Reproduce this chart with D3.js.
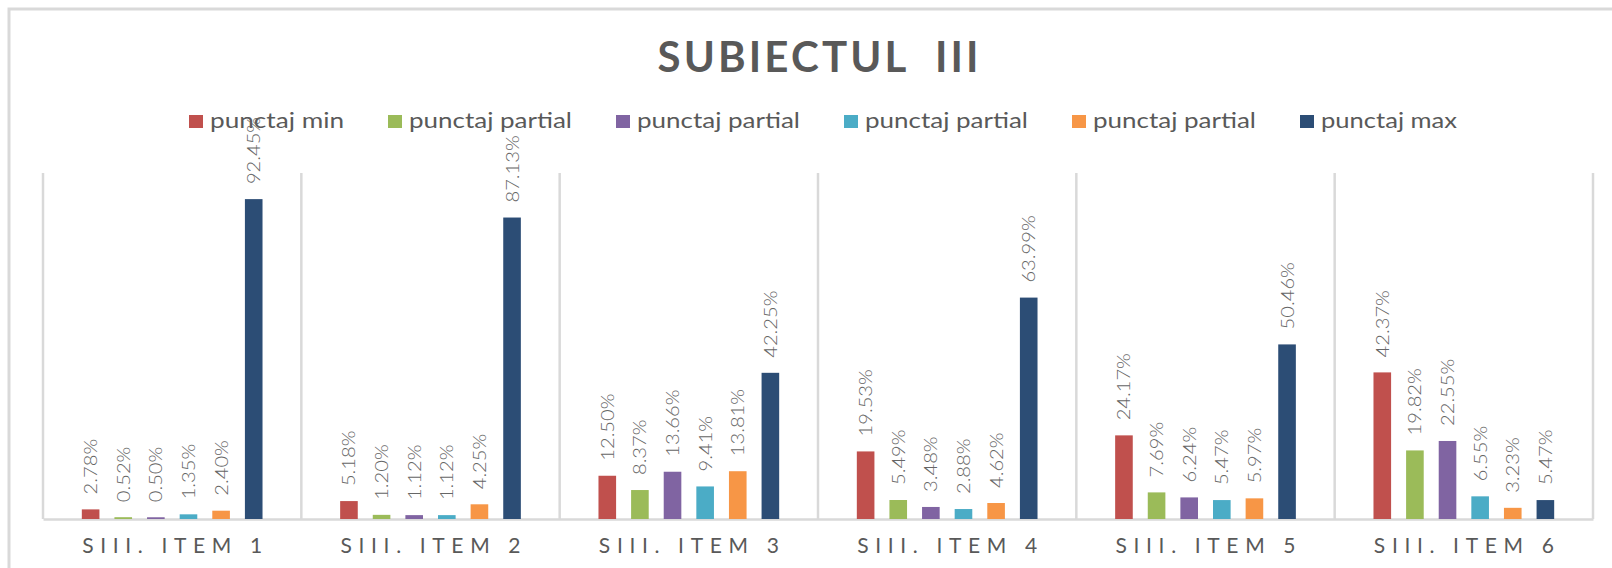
<!DOCTYPE html>
<html>
<head>
<meta charset="utf-8">
<script src="https://cdn.jsdelivr.net/npm/d3@7/dist/d3.min.js"></script>
<style>
  html, body { margin: 0; padding: 0; background: #ffffff; }
  svg { display: block; }
  text { font-family: Lato, "Open Sans", sans-serif; }
</style>
</head>
<body>
<svg id="chart" width="1612" height="568"></svg>
<script>
// Categories (items of Subiectul III)
const categories = ["SIII. ITEM 1", "SIII. ITEM 2", "SIII. ITEM 3", "SIII. ITEM 4", "SIII. ITEM 5", "SIII. ITEM 6"];

// Series names as shown in the legend
const seriesNames = ["punctaj min", "punctaj partial", "punctaj partial", "punctaj partial", "punctaj partial", "punctaj max"];

// Percent of students per score band, one array per series
const punctajMin      = [2.78, 5.18, 12.50, 19.53, 24.17, 42.37];
const punctajPartial1 = [0.52, 1.20, 8.37, 5.49, 7.69, 19.82];
const punctajPartial2 = [0.50, 1.12, 13.66, 3.48, 6.24, 22.55];
const punctajPartial3 = [1.35, 1.12, 9.41, 2.88, 5.47, 6.55];
const punctajPartial4 = [2.40, 4.25, 13.81, 4.62, 5.97, 3.23];
const punctajMax      = [92.45, 87.13, 42.25, 63.99, 50.46, 5.47];

const seriesValues = [punctajMin, punctajPartial1, punctajPartial2, punctajPartial3, punctajPartial4, punctajMax];
const seriesColors = ["#C0504D", "#9BBB59", "#8064A2", "#4BACC6", "#F79646", "#2C4D75"];

const titleText = "SUBIECTUL  III";

const svg = d3.select("#chart");
const textColor = "#595959";
const gridColor = "#D9D9D9";

// Plot area
const plot = { left: 43, right: 1593, top: 173, bottom: 519 };

// Outer chart border (extends past the right and bottom edges)
svg.append("rect")
  .attr("x", 9).attr("y", 9)
  .attr("width", 1640).attr("height", 600)
  .attr("fill", "none")
  .attr("stroke", gridColor)
  .attr("stroke-width", 3);

// Title
svg.append("text")
  .attr("x", 818).attr("y", 72)
  .attr("text-anchor", "middle")
  .attr("font-size", 42)
  .attr("font-weight", "bold")
  .attr("fill", textColor)
  .attr("textLength", 321)
  .attr("lengthAdjust", "spacing")
  .style("white-space", "pre")
  .text(titleText);

// Legend laid out left to right
const legendWidths = [134, 163, 163, 163, 163, 136];
let lx = 189;
const legend = svg.append("g");
seriesNames.forEach((name, i) => {
  legend.append("rect")
    .attr("x", lx).attr("y", 115)
    .attr("width", 14).attr("height", 13)
    .attr("fill", seriesColors[i]);
  legend.append("text")
    .attr("x", lx + 21).attr("y", 128)
    .attr("font-size", 21)
    .attr("fill", textColor)
    .attr("textLength", legendWidths[i])
    .attr("lengthAdjust", "spacingAndGlyphs")
    .text(name);
  lx += 21 + legendWidths[i] + 44;
});

// Scales
const x0 = d3.scaleBand()
  .domain(categories)
  .range([plot.left, plot.right])
  .paddingInner(0)
  .paddingOuter(0);

const x1 = d3.scaleBand()
  .domain(d3.range(seriesValues.length))
  .range([0, x0.bandwidth()])
  .paddingInner(0.46)
  .paddingOuter(1.19);

const y = d3.scaleLinear()
  .domain([0, 100])
  .range([plot.bottom, plot.top]);

// Vertical separators between categories
const edges = categories.map(c => x0(c)).concat([plot.right]);
svg.append("g")
  .selectAll("line")
  .data(edges)
  .join("line")
  .attr("x1", d => d).attr("x2", d => d)
  .attr("y1", plot.top).attr("y2", plot.bottom)
  .attr("stroke", gridColor)
  .attr("stroke-width", 2.5);

// Category axis
const xAxis = svg.append("g")
  .attr("transform", `translate(0,${plot.bottom})`)
  .call(d3.axisBottom(x0).tickSize(0).tickPadding(0));
xAxis.select(".domain")
  .attr("stroke", gridColor)
  .attr("stroke-width", 2.5);
xAxis.selectAll(".tick text")
  .attr("y", 34)
  .attr("dy", 0)
  .attr("font-family", "Lato, 'Open Sans', sans-serif")
  .attr("font-size", 21)
  .attr("fill", textColor)
  .attr("textLength", 180)
  .attr("lengthAdjust", "spacing");

// Bars
const rows = [];
categories.forEach((c, ci) => {
  seriesValues.forEach((vals, si) => {
    rows.push({ cat: c, s: si, v: vals[ci] });
  });
});

const bars = svg.append("g");
bars.selectAll("rect")
  .data(rows)
  .join("rect")
  .attr("x", d => x0(d.cat) + x1(d.s))
  .attr("y", d => y(d.v))
  .attr("width", x1.bandwidth())
  .attr("height", d => plot.bottom - y(d.v))
  .attr("fill", d => seriesColors[d.s]);

// Rotated value labels above each bar, slightly elongated along the text
const fmt = v => v.toFixed(2) + "%";
const labels = bars.selectAll("text")
  .data(rows)
  .join("text")
  .attr("transform", d => {
    const cx = x0(d.cat) + x1(d.s) + x1.bandwidth() / 2;
    return `translate(${cx},${y(d.v) - 15}) rotate(-90)`;
  })
  .attr("dy", "0.36em")
  .attr("font-size", 18)
  .attr("font-weight", 300)
  .attr("fill", "#666666")
  .text(d => fmt(d.v));
labels.each(function () {
  const w = this.getComputedTextLength();
  d3.select(this)
    .attr("textLength", w * 1.12)
    .attr("lengthAdjust", "spacingAndGlyphs");
});
</script>
</body>
</html>
